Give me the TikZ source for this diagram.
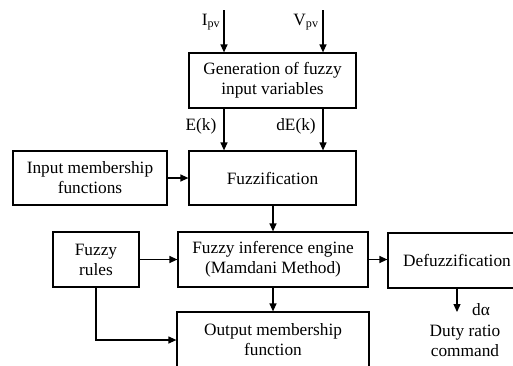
\documentclass[tikz,border=0pt]{standalone}
\usepackage{fontspec}
\setmainfont{Liberation Serif}
\usetikzlibrary{arrows.meta}
\begin{document}
\begin{tikzpicture}[x=1pt,y=-1pt,line width=1.2pt,
  blk/.style={draw,rectangle,align=center,inner sep=0pt,font=\fontsize{17.3}{20}\selectfont},
  lbl/.style={font=\fontsize{17.3}{20}\selectfont,inner sep=0pt},
  >={Triangle[length=8pt,width=7pt]}]
\useasboundingbox (0,0) rectangle (513,365);
\clip (0,0) rectangle (513,365);

\node[blk,minimum width=167pt,minimum height=55pt] (gen) at (272.5,80.5) {Generation of fuzzy\\input variables};
\node[blk,minimum width=167pt,minimum height=54pt] (fuzz) at (272.5,178) {Fuzzification};
\node[blk,minimum width=154pt,minimum height=54pt] (inmf) at (90,178) {Input membership\\functions};
\node[blk,minimum width=86pt,minimum height=55pt] (rules) at (96,259.5) {Fuzzy\\rules};
\node[blk,minimum width=190pt,minimum height=55pt] (infer) at (273,259.5) {Fuzzy inference engine\\(Mamdani Method)};
\node[blk,minimum width=138pt,minimum height=55pt] (defuzz) at (457,260.5) {Defuzzification};
\node[blk,minimum width=192pt,minimum height=56pt] (outmf) at (273,340) {Output membership\\function};

\coordinate (ipv) at (224,10);
\coordinate (vpv) at (323,10);
\coordinate (dout) at (457,312);

\draw[->] (ipv) -- (ipv |- gen.north);
\draw[->] (vpv) -- (vpv |- gen.north);
\node[lbl] (ilab) at (211,22) {I\textsubscript{pv}};
\node[lbl] (vlab) at (306,22) {V\textsubscript{pv}};

\draw[->] (ipv |- gen.south) -- (ipv |- fuzz.north);
\draw[->] (vpv |- gen.south) -- (vpv |- fuzz.north);
\node[lbl] (elab) at (201,126) {E(k)};
\node[lbl] (delab) at (296,126) {dE(k)};

\draw[->] (inmf.east) -- (fuzz.west |- inmf.east);
\draw[->] (fuzz.south -| infer.north) -- (infer.north);
\draw[->] (rules.east) -- (infer.west |- rules.east);
\draw[->] (infer.east) -- (defuzz.west |- infer.east);
\draw[->] (infer.south) -- (outmf.north);
\draw[->] (rules.south) |- (outmf.west);
\draw[->] (defuzz.south -| dout) -- (dout);

\node[lbl] (dalab) at (481,310) {dα};
\node[lbl,align=center] (duty) at (465,341) {Duty ratio\\command};
\end{tikzpicture}
\end{document}
